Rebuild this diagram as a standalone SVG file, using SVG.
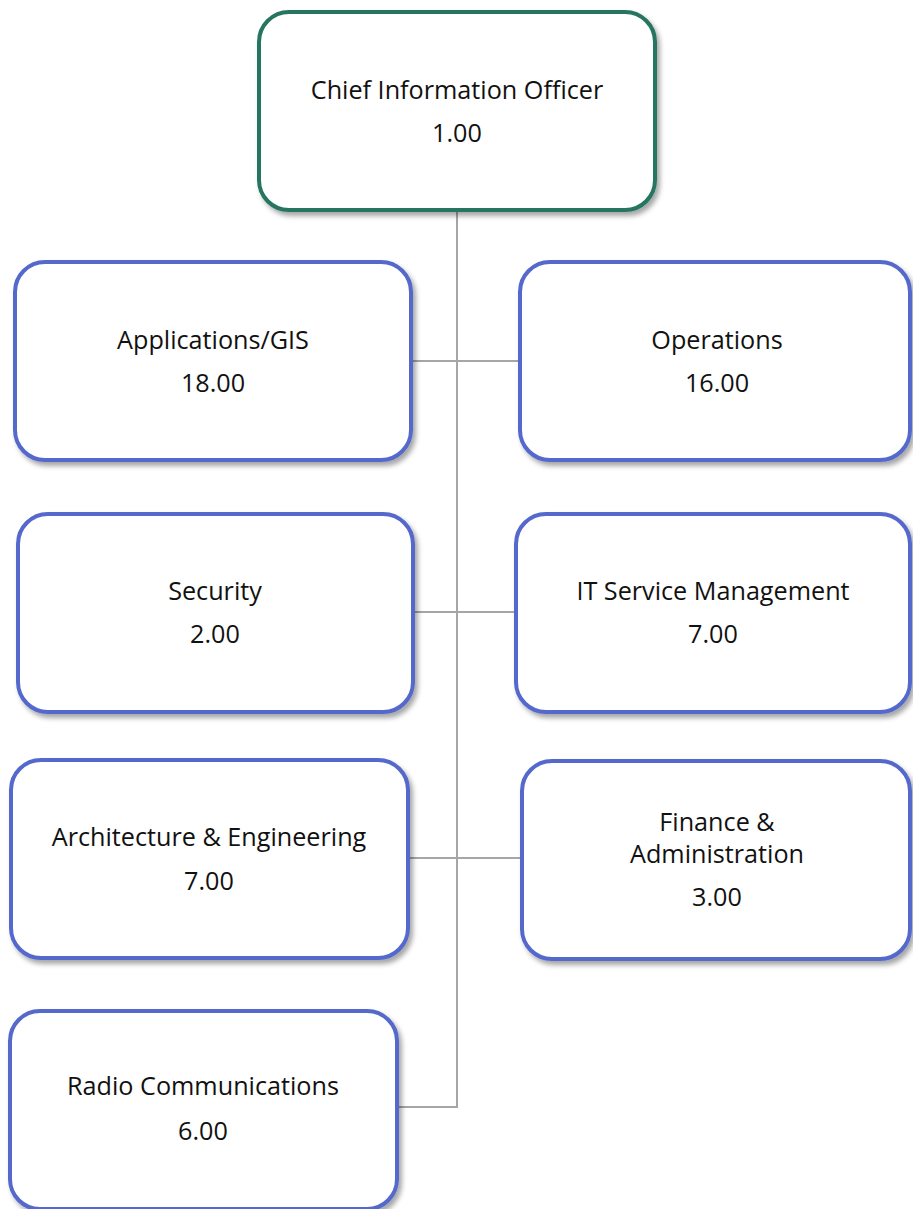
<svg xmlns="http://www.w3.org/2000/svg" width="913" height="1209" viewBox="0 0 913 1209">
<style>
.box{fill:#ffffff;stroke-width:4;filter:url(#sh)}
.top{stroke:#267460}
.sub{stroke:#5468CB}
.lbl{font-family:"Open Sans","Noto Sans",sans-serif;font-size:25.2px;fill:#111111;text-anchor:middle}
.conn{stroke:#a6a6a6;stroke-width:2;fill:none}
</style>
<defs>
<filter id="sh" x="-10%" y="-10%" width="125%" height="130%">
<feDropShadow dx="3" dy="4" stdDeviation="2.5" flood-color="#000000" flood-opacity="0.35"/>
</filter>
</defs>
<rect width="913" height="1209" fill="#ffffff"/>
<g id="connectors">
<path class="conn" d="M457 210 V1107 H398"/>
<path class="conn" d="M411 361 H520"/>
<path class="conn" d="M413 612 H516"/>
<path class="conn" d="M408 858 H522"/>
</g>
<g id="cio">
<rect class="box top" x="259" y="12" width="396" height="198" rx="30"/>
<text class="lbl" x="457" y="99">Chief Information Officer</text>
<text class="lbl" x="457" y="142">1.00</text>
</g>
<g id="apps">
<rect class="box sub" x="15" y="262" width="396" height="198" rx="30"/>
<text class="lbl" x="213" y="349">Applications/GIS</text>
<text class="lbl" x="213" y="392">18.00</text>
</g>
<g id="ops">
<rect class="box sub" x="520" y="262" width="390" height="198" rx="30"/>
<text class="lbl" x="717" y="349">Operations</text>
<text class="lbl" x="717" y="392">16.00</text>
</g>
<g id="security">
<rect class="box sub" x="18" y="514" width="395" height="198" rx="30"/>
<text class="lbl" x="215" y="600">Security</text>
<text class="lbl" x="215" y="643">2.00</text>
</g>
<g id="itsm">
<rect class="box sub" x="516" y="514" width="394" height="198" rx="30"/>
<text class="lbl" x="713" y="600">IT Service Management</text>
<text class="lbl" x="713" y="643">7.00</text>
</g>
<g id="arch">
<rect class="box sub" x="11" y="760" width="397" height="198" rx="30"/>
<text class="lbl" x="209" y="846">Architecture &amp; Engineering</text>
<text class="lbl" x="209" y="890">7.00</text>
</g>
<g id="finance">
<rect class="box sub" x="522" y="761" width="388" height="198" rx="30"/>
<text class="lbl" x="717" y="831">Finance &amp;</text>
<text class="lbl" x="717" y="863">Administration</text>
<text class="lbl" x="717" y="906">3.00</text>
</g>
<g id="radio">
<rect class="box sub" x="10" y="1011" width="387" height="198" rx="30"/>
<text class="lbl" x="203" y="1095">Radio Communications</text>
<text class="lbl" x="203" y="1140">6.00</text>
</g>
</svg>
